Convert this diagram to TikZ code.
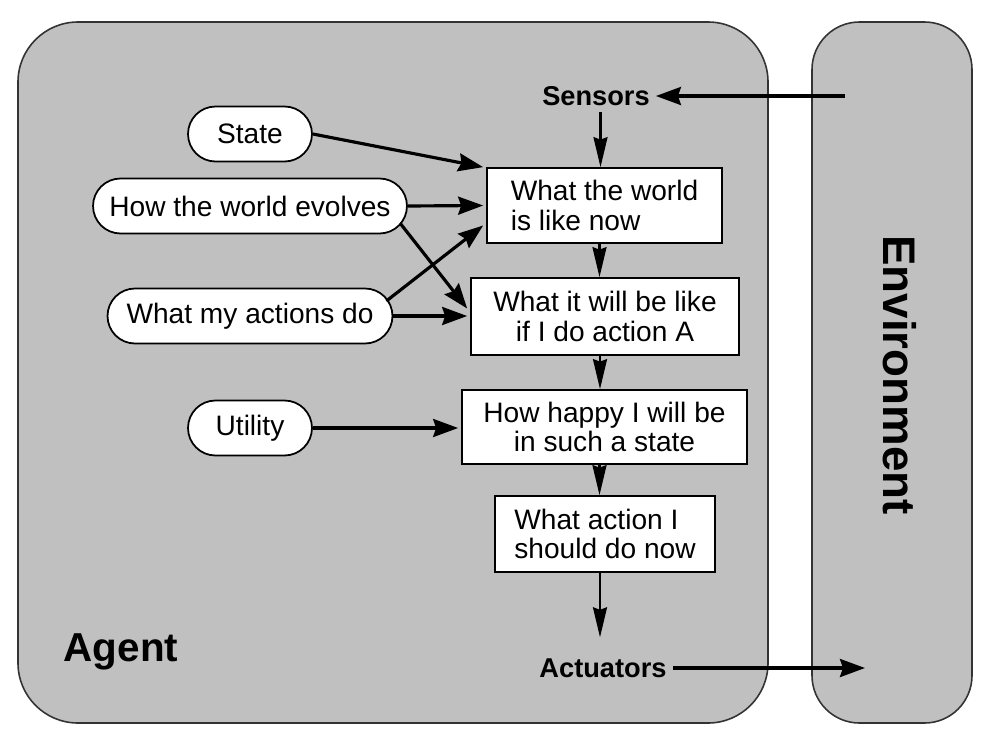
\documentclass[tikz,border=0pt]{standalone}
\usepackage{fontspec}
\setmainfont{Liberation Sans}
\usetikzlibrary{arrows.meta}
\definecolor{panelgray}{RGB}{192,192,192}
\tikzset{
  panel/.style={fill=panelgray, draw=black!80, line width=0.9pt},
  pill/.style={draw=black, fill=white, line width=1pt, rounded corners=0.55cm,
    minimum height=1.1cm, inner xsep=0pt, font=\fontsize{16}{17}\selectfont},
  infobox/.style={draw=black, fill=white, line width=1pt, inner sep=0pt,
    font=\fontsize{16}{17}\selectfont},
  lbl/.style={font=\bfseries\fontsize{15.5}{17}\selectfont},
  arr/.style={line width=1.8pt, -{Stealth[length=0.5cm,width=0.36cm,inset=0.06cm]}},
  varr/.style={line width=1.2pt, -{Stealth[length=0.6cm,width=0.28cm,inset=0.05cm]}}
}
\begin{document}
\begin{tikzpicture}[x=0.02cm,y=-0.02cm]
\useasboundingbox (0,0) rectangle (1000,744);
% panels
\draw[panel, rounded corners=1.2cm] (18,22) rectangle (768,723);
\draw[panel, rounded corners=0.95cm] (812,22) rectangle (972,723);
\node[font=\bfseries\fontsize{23}{25}\selectfont] (agent) at (121,652) {Agent};
\node[font=\bfseries\fontsize{26}{28}\selectfont, rotate=-90] (env) at (900,375) {Environment};
% labels
\node[lbl] (sensors) at (596,96) {Sensors};
\node[lbl] (actuators) at (603,668) {Actuators};
\coordinate (envin) at (845,96);
\coordinate (envout) at (865,670);
% pills
\node[pill, minimum width=2.48cm] (state) at (250,134) {State};
\node[pill, minimum width=6.28cm] (evolves) at (250,206) {How the world evolves};
\node[pill, minimum width=5.7cm] (actions) at (250,316) {What my actions do};
\node[pill, minimum width=2.48cm] (utility) at (250,428) {Utility};
% boxes
\node[infobox, minimum width=4.7cm, minimum height=1.5cm, align=left] (now) at (604.5,205.5) {What the world\\is like now};
\node[infobox, minimum width=5.36cm, minimum height=1.54cm, align=center] (will) at (605,316.5) {What it will be like\\if I do action A};
\node[infobox, minimum width=5.7cm, minimum height=1.48cm, align=center] (happy) at (604.5,427) {How happy I will be\\in such a state};
\node[infobox, minimum width=4.4cm, minimum height=1.52cm, align=left] (act) at (605,534) {What action I\\should do now};
% connectors
\draw[arr] (envin |- sensors.east) -- (sensors.east);
\draw[arr] (actuators.east) -- (actuators.east -| envout);
\draw[varr] (sensors.south -| now.north) ++(-4,0) coordinate (s1) -- (s1 |- now.north);
\draw[arr] (state.east) -- ([xshift=-0.06cm]now.north west);
\draw[arr] (evolves.east) -- ([xshift=-0.06cm]now.west);
\draw[arr] ([xshift=-0.15cm,yshift=-0.35cm]evolves.east) -- ([xshift=-0.06cm,yshift=0.16cm]will.west);
\draw[arr] ([xshift=-0.14cm,yshift=0.3cm]actions.east) -- ([xshift=-0.06cm,yshift=-0.4cm]now.west);
\draw[arr] (actions.east) -- ([xshift=-0.06cm]will.west |- actions.east);
\draw[varr] ([xshift=-0.1cm]now.south) -- ([xshift=-0.1cm]now.south |- will.north);
\draw[varr] ([xshift=-0.1cm]will.south) -- ([xshift=-0.1cm]will.south |- happy.north);
\draw[arr] (utility.east) -- ([xshift=-0.06cm]happy.west |- utility.east);
\draw[varr] ([xshift=-0.1cm]happy.south) -- ([xshift=-0.1cm]happy.south |- act.north);
\draw[varr] ([xshift=-0.1cm]act.south) -- ([xshift=-0.1cm,yshift=0.3cm]act.south |- actuators.north);
\end{tikzpicture}
\end{document}
